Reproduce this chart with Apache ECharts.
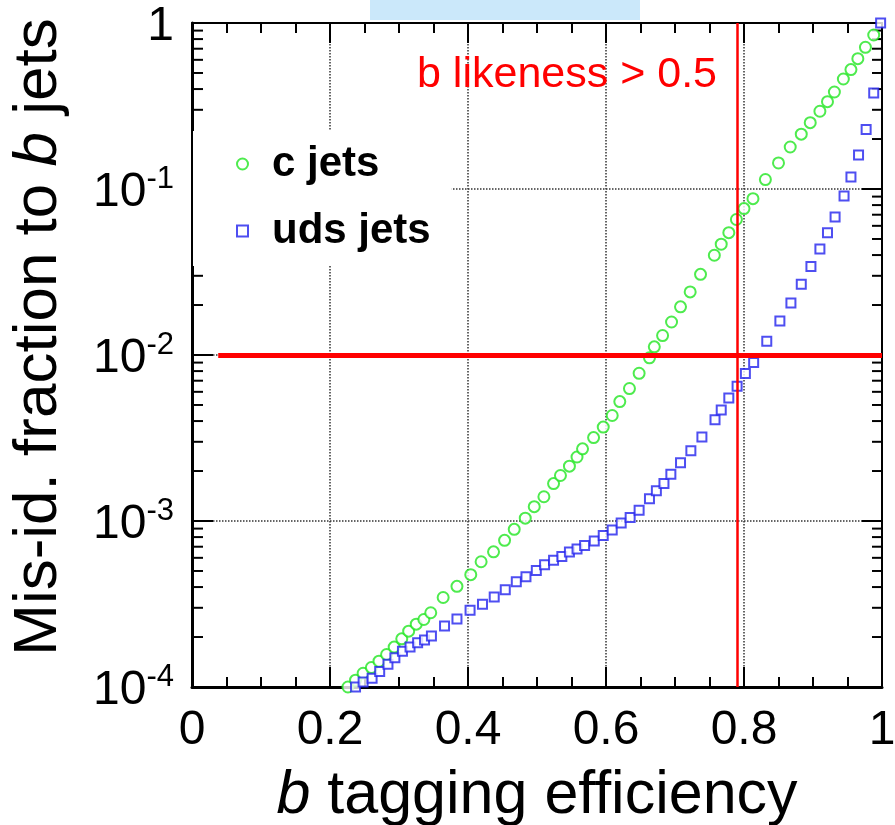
<!DOCTYPE html>
<html>
<head>
  <meta charset="utf-8">
  <title>b tagging</title>
  <script src="https://cdn.jsdelivr.net/npm/echarts@6/dist/echarts.min.js"></script>
  <style>
    html, body {margin:0; padding:0; background:#fff;}
    #main {width:895px; height:825px;}
  </style>
</head>
<body>
<div id="main"></div>
<script>
// c jets: b tagging efficiency vs mis-id fraction
var cEff = [0.226,0.237,0.248,0.260,0.271,0.282,0.293,0.304,0.314,0.325,0.336,0.346,0.364,0.384,0.404,0.419,
  0.437,0.453,0.467,0.483,0.496,0.510,0.524,0.534,0.547,0.558,0.566,0.582,0.596,0.609,0.620,0.634,0.648,0.663,
  0.670,0.682,0.695,0.708,0.722,0.737,0.757,0.767,0.778,0.789,0.800,0.813,0.831,0.850,0.867,0.883,0.896,0.910,
  0.921,0.931,0.944,0.955,0.965,0.976,0.988];
var cMis = [1.00e-4,1.10e-4,1.21e-4,1.31e-4,1.43e-4,1.57e-4,1.74e-4,1.95e-4,2.17e-4,2.39e-4,2.55e-4,2.80e-4,
  3.46e-4,4.04e-4,4.75e-4,5.68e-4,6.52e-4,7.65e-4,8.91e-4,1.04e-3,1.22e-3,1.40e-3,1.68e-3,1.88e-3,2.14e-3,
  2.43e-3,2.72e-3,3.18e-3,3.68e-3,4.32e-3,5.24e-3,6.28e-3,7.76e-3,9.62e-3,1.12e-2,1.31e-2,1.58e-2,1.95e-2,
  2.40e-2,3.06e-2,3.99e-2,4.65e-2,5.46e-2,6.55e-2,7.62e-2,8.75e-2,0.114,0.1435,0.179,0.214,0.251,0.294,0.336,
  0.384,0.460,0.524,0.610,0.714,0.847];

// uds jets
var udsEff = [0.237,0.248,0.261,0.272,0.284,0.294,0.305,0.316,0.327,0.337,0.347,0.366,0.384,0.403,0.421,0.438,
  0.454,0.470,0.484,0.499,0.511,0.524,0.536,0.547,0.558,0.569,0.583,0.596,0.609,0.622,0.635,0.648,0.663,0.673,
  0.684,0.694,0.708,0.723,0.739,0.758,0.767,0.778,0.790,0.802,0.814,0.833,0.852,0.868,0.883,0.897,0.910,0.921,
  0.932,0.945,0.955,0.966,0.977,0.988,0.998];
var udsMis = [1.00e-4,1.07e-4,1.13e-4,1.24e-4,1.37e-4,1.50e-4,1.64e-4,1.74e-4,1.85e-4,1.92e-4,2.03e-4,2.33e-4,
  2.57e-4,2.90e-4,3.15e-4,3.48e-4,3.86e-4,4.31e-4,4.61e-4,5.03e-4,5.46e-4,5.80e-4,6.11e-4,6.50e-4,6.78e-4,
  7.11e-4,7.59e-4,8.17e-4,8.83e-4,9.73e-4,1.05e-3,1.16e-3,1.36e-3,1.52e-3,1.68e-3,1.91e-3,2.24e-3,2.65e-3,
  3.21e-3,4.08e-3,4.67e-3,5.51e-3,6.48e-3,7.73e-3,9.00e-3,1.21e-2,1.60e-2,2.06e-2,2.67e-2,3.41e-2,4.35e-2,
  5.46e-2,6.78e-2,9.08e-2,0.118,0.160,0.228,0.379,1.0];

// log axis minor ticks (2..9 x 10^n)
var minorMantissa = [2,3,4,5,6,7,8,9];
var minorDecades = [1e-4,1e-3,1e-2,1e-1];

var cutEff = 0.79;      // b likeness > 0.5
var misLine = 0.01;
var misLineStart = 0.038;

var FONT = '"Liberation Sans", Arial, Helvetica, sans-serif';

var minorTicks = [];
minorDecades.forEach(function (d) {
  minorMantissa.forEach(function (m) { minorTicks.push([0, m * d]); });
});

function pairs(xs, ys) {
  return xs.map(function (x, i) { return [x, ys[i]]; });
}

var myChart = echarts.init(document.getElementById('main'));

var xAxisBase = {
  type: 'value', min: 0, max: 1, interval: 0.2,
  axisLine: {show: true, onZero: false, lineStyle: {color: '#000', width: 3}},
  axisTick: {show: true, inside: true, length: 20, lineStyle: {color: '#000', width: 2}},
  minorTick: {show: true, splitNumber: 4, length: 10, lineStyle: {color: '#000', width: 2}},
  splitLine: {show: false}
};

var option = {
  backgroundColor: '#fff',
  animation: false,
  grid: {left: 192, right: 13, top: 23, bottom: 138, containLabel: false, outerBoundsMode: 'none'},
  graphic: [
    {type: 'rect', left: 370, top: 0, shape: {width: 270, height: 20}, style: {fill: '#cbe8fa'}, z: 100},
    {type: 'text', left: 417, top: 54, z: 100,
     style: {text: 'b likeness > 0.5', fill: '#ff0000', fontSize: 43, fontFamily: FONT}}
  ],
  legend: {
    orient: 'vertical', left: 193, top: 131,
    padding: [10, 21, 12, 43],
    backgroundColor: '#fff',
    itemWidth: 11, itemHeight: 11, itemGap: 21,
    textStyle: {fontSize: 42, fontWeight: 'bold', color: '#000', fontFamily: FONT, lineHeight: 46,
                padding: [0, 0, 0, 19]},
    data: [
      {name: 'c jets', icon: 'emptyCircle'},
      {name: 'uds jets', icon: 'emptyRect'}
    ]
  },
  xAxis: [
    Object.assign({}, xAxisBase, {
      position: 'bottom',
      axisLabel: {
        show: true, margin: 20, color: '#000', fontSize: 48, fontFamily: FONT,
        showMinLabel: true, showMaxLabel: true,
        formatter: function (v) { return (v === 0 || v === 1) ? String(v) : v.toFixed(1); }
      },
      splitLine: {show: true, lineStyle: {type: 'dotted', color: '#333', width: 1.5}},
      name: '{i|b} tagging efficiency',
      nameLocation: 'middle', nameGap: 77,
      nameTextStyle: {
        fontSize: 61, color: '#000', fontFamily: FONT, lineHeight: 64,
        rich: {i: {fontSize: 61, fontStyle: 'italic', fontFamily: FONT, color: '#000'}}
      }
    }),
    Object.assign({}, xAxisBase, {
      position: 'top',
      axisLine: {show: true, onZero: false, lineStyle: {color: '#000', width: 2}},
      axisLabel: {show: false}
    })
  ],
  yAxis: [
    {
      type: 'log', logBase: 10, min: 1e-4, max: 1, position: 'left',
      axisLine: {show: true, onZero: false, lineStyle: {color: '#000', width: 3}},
      axisTick: {show: true, inside: true, length: 21, lineStyle: {color: '#000', width: 2}},
      splitLine: {show: true, lineStyle: {type: 'dotted', color: '#333', width: 1.5}},
      axisLabel: {
        margin: 18, color: '#000', fontFamily: FONT,
        formatter: function (v) {
          var e = Math.round(Math.log10(v));
          return e === 0 ? '{n|1}' : '{n|10}{s|' + e + '}';
        },
        rich: {
          n: {fontSize: 48, fontFamily: FONT, color: '#000', padding: [8, 0, 0, 0]},
          s: {fontSize: 31, fontFamily: FONT, color: '#000', padding: [0, 0, 20, 0]}
        }
      },
      name: 'Mis-id. fraction to {i|b} jets',
      nameLocation: 'middle', nameGap: 122,
      nameTextStyle: {
        fontSize: 62, color: '#000', fontFamily: FONT, padding: [0, 0, 0, 36],
        rich: {i: {fontSize: 62, fontStyle: 'italic', fontFamily: FONT, color: '#000'}}
      }
    },
    {
      type: 'log', logBase: 10, min: 1e-4, max: 1, position: 'right',
      axisLine: {show: true, onZero: false, lineStyle: {color: '#000', width: 2}},
      axisTick: {show: true, inside: true, length: 20, lineStyle: {color: '#000', width: 2}},
      axisLabel: {show: false},
      splitLine: {show: false}
    }
  ],
  series: [
    {
      name: 'y minor ticks', type: 'custom', xAxisIndex: 0, yAxisIndex: 0,
      silent: true, z: 3, clip: false,
      data: minorTicks,
      renderItem: function (params, api) {
        var p0 = api.coord([0, api.value(1)]);
        var p1 = api.coord([1, api.value(1)]);
        return {
          type: 'group',
          children: [
            {type: 'line', shape: {x1: p0[0], y1: p0[1], x2: p0[0] + 11, y2: p0[1]},
             style: {stroke: '#000', lineWidth: 2}},
            {type: 'line', shape: {x1: p1[0], y1: p1[1], x2: p1[0] - 10, y2: p1[1]},
             style: {stroke: '#000', lineWidth: 2}}
          ]
        };
      }
    },
    {
      name: 'c jets', type: 'scatter', symbol: 'emptyCircle', symbolSize: 11,
      itemStyle: {color: '#22e622', borderColor: '#22e622', borderWidth: 1.6},
      data: pairs(cEff, cMis), z: 4
    },
    {
      name: 'uds jets', type: 'scatter', symbol: 'emptyRect', symbolSize: 9,
      itemStyle: {color: '#2222ee', borderColor: '#2222ee', borderWidth: 1.6},
      data: pairs(udsEff, udsMis), z: 4
    },
    {
      name: 'cuts', type: 'line', data: [], z: 5,
      markLine: {
        silent: true, symbol: 'none', label: {show: false}, animation: false,
        data: [
          {xAxis: cutEff, lineStyle: {color: '#ff0000', width: 2.5, type: 'solid'}},
          [{coord: [misLineStart, misLine]}, {coord: [1, misLine],
            lineStyle: {color: '#ff0000', width: 5, type: 'solid'}}]
        ]
      }
    }
  ]
};

myChart.setOption(option);
</script>
</body>
</html>
